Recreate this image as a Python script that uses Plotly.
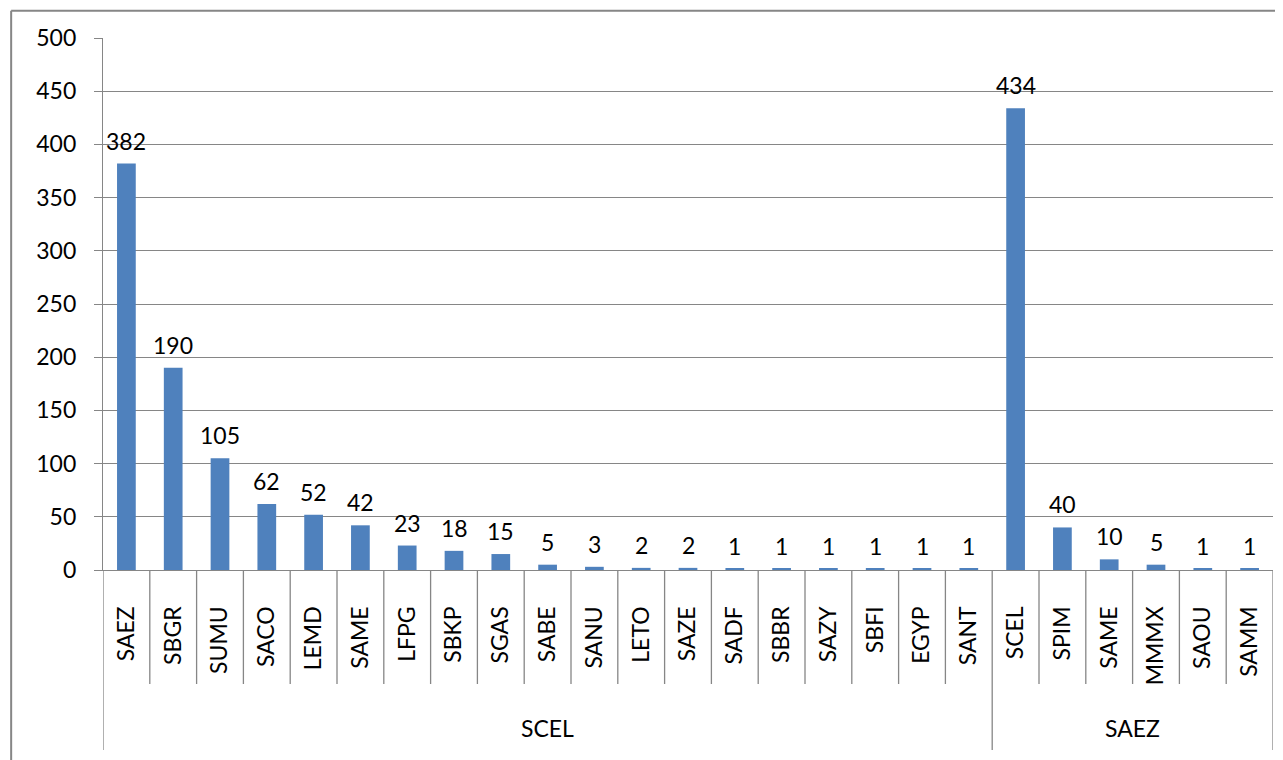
import plotly.graph_objects as go

categories = ["SAEZ", "SBGR", "SUMU", "SACO", "LEMD", "SAME", "LFPG", "SBKP", "SGAS",
              "SABE", "SANU", "LETO", "SAZE", "SADF", "SBBR", "SAZY", "SBFI", "EGYP", "SANT",
              "SCEL", "SPIM", "SAME", "MMMX", "SAOU", "SAMM"]
groups = ["SCEL"] * 19 + ["SAEZ"] * 6
values = [382, 190, 105, 62, 52, 42, 23, 18, 15, 5, 3, 2, 2, 1, 1, 1, 1, 1, 1,
          434, 40, 10, 5, 1, 1]
y_ticks = list(range(0, 501, 50))

FONT = "Lato"
GRAY = "#868686"
BAR = "#4F81BD"
n = len(categories)
idx = list(range(n))

fig = go.Figure()
fig.add_trace(go.Bar(x=idx, y=values, marker=dict(color=BAR, line=dict(width=0)),
                     hoverinfo="skip"))

for i, v in zip(idx, values):
    fig.add_annotation(x=i, y=v, xref="x", yref="y", text=str(v), showarrow=False,
                       yanchor="bottom", yshift=7, font=dict(family=FONT, size=23, color="#000000"))

group_edges = [-0.5]
for i in range(1, n):
    if groups[i] != groups[i - 1]:
        group_edges.append(i - 0.5)
group_edges.append(n - 0.5)

shapes = []
for i in range(1, n):
    b = i - 0.5
    if b in group_edges:
        continue
    shapes.append(dict(type="line", xref="x", yref="paper", x0=b, x1=b, y0=0, y1=-0.2143,
                       line=dict(color=GRAY, width=1.3)))
for b in group_edges:
    shapes.append(dict(type="line", xref="x", yref="paper", x0=b, x1=b, y0=0, y1=-0.3383,
                       line=dict(color=GRAY, width=1.3)))

# outer chart border (left and top edges)
bx, by = -0.0785, 1.0510
shapes.append(dict(type="line", xref="paper", yref="paper", x0=bx, x1=bx, y0=-0.40, y1=by,
                   line=dict(color=GRAY, width=2)))
shapes.append(dict(type="line", xref="paper", yref="paper", x0=bx, x1=1.03, y0=by, y1=by,
                   line=dict(color=GRAY, width=2)))

for k in range(1, len(group_edges)):
    lo, hi = group_edges[k - 1], group_edges[k]
    name = groups[int(lo + 0.5)]
    fig.add_annotation(x=(lo + hi) / 2, y=-0.297, xref="x", yref="paper", text=name,
                       showarrow=False, yanchor="middle",
                       font=dict(family=FONT, size=23, color="#000000"))

fig.update_layout(
    width=1283, height=760,
    margin=dict(l=95, r=18, t=30, b=198),
    plot_bgcolor="white", paper_bgcolor="white",
    bargap=0.6, showlegend=False, shapes=shapes,
    font=dict(family=FONT, size=23, color="#000000"),
)
fig.update_xaxes(range=[-0.5, n - 0.5], tickvals=idx, ticktext=categories, tickangle=-90,
                 ticks="", showgrid=False, showline=True, linecolor=GRAY, linewidth=1.3,
                 zeroline=False, tickfont=dict(family=FONT, size=23, color="#000000"),
                 ticklabelstandoff=26)
fig.update_yaxes(range=[0, 500], tickvals=y_ticks, ticks="outside", ticklen=8, tickcolor=GRAY,
                 tickwidth=1.3, showgrid=True, gridcolor=GRAY, gridwidth=1.3, showline=True,
                 linecolor=GRAY, linewidth=1.3, zeroline=False,
                 tickfont=dict(family=FONT, size=23, color="#000000"), ticklabelstandoff=13)

fig.write_html("out.html")
